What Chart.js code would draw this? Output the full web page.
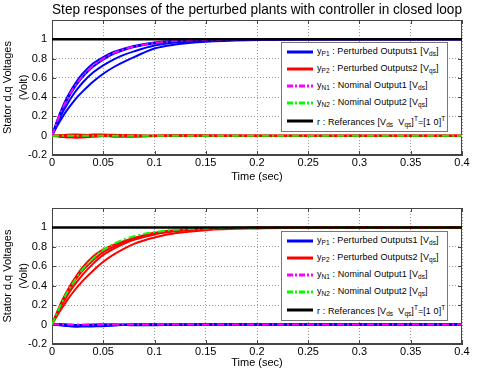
<!DOCTYPE html>
<html>
<head>
<meta charset="utf-8">
<script src="https://cdn.jsdelivr.net/npm/chart.js@4"></script>
<style>
  body { margin: 0; background: #fff; font-family: "Liberation Sans", Arial, sans-serif; }
  #wrap { position: relative; width: 480px; height: 373px; }
  canvas { position: absolute; left: 0; }
  #top-chart { top: 0; }
  #bottom-chart { top: 186px; }
  .legend { position: absolute; left: 281px; width: 165px; height: 88px; border: 1px solid #777; background: #fff; font-size: 9px; letter-spacing: 0.1px; color: #000; }
  .legend .row { display: flex; align-items: center; height: 17px; white-space: nowrap; }
  .legend .row.last { height: 20px; }
  .legend svg { margin-left: 5px; margin-right: 4px; flex: none; }
  .legend sub { font-size: 6.5px; vertical-align: -2px; letter-spacing: 0; }
  .legend sup { font-size: 6.5px; vertical-align: 4px; letter-spacing: 0; }
</style>
</head>
<body>
<div id="wrap">
  <canvas id="top-chart" width="480" height="186"></canvas>
  <canvas id="bottom-chart" width="480" height="187"></canvas>
  <div class="legend" id="legend-top" style="top:42px"></div>
  <div class="legend" id="legend-bottom" style="top:231px"></div>
</div>
<script>
// time samples (sec)
const timeSec = [0, 0.005, 0.01, 0.015, 0.02, 0.025, 0.03, 0.04, 0.05, 0.06, 0.07, 0.08, 0.1, 0.12, 0.15, 0.2, 0.25, 0.3, 0.35, 0.4];
const refTime = [0, 0.4];
const refLevel = [1, 1];

// top plot: Vds step (perturbed plants + nominal)
const vdsP1 = [0, .158, .292, .404, .498, .578, .645, .748, .815, .868, .903, .930, .966, .984, .995, 1, 1, 1, 1, 1];
const vdsP2 = [0, .145, .27, .375, .466, .544, .61, .715, .79, .848, .889, .919, .958, .978, .992, .999, 1, 1, 1, 1];
const vdsP3 = [0, .125, .235, .33, .415, .488, .552, .655, .73, .79, .838, .875, .935, .966, .986, .997, 1, 1, 1, 1];
const vdsP4 = [0, .10, .19, .27, .34, .405, .46, .56, .643, .71, .765, .815, .905, .945, .975, .992, .998, 1, 1, 1];
const vdsNominal = [0, .149, .276, .384, .476, .554, .620, .725, .800, .856, .895, .924, .962, .982, .994, 1, 1, 1, 1, 1];
// top plot: Vqs coupling
const vqsTop1 = [0, .004, .002, -.006, -.012, -.014, -.01, 0, .008, .01, .006, .002, -.002, 0, 0, 0, 0, 0, 0, 0];
const vqsTop2 = [0, -.006, -.014, -.018, -.014, -.006, .002, .012, .012, .004, -.004, -.008, -.004, .002, 0, 0, 0, 0, 0, 0];
const vqsTop3 = [0, .002, .006, .01, .012, .012, .01, .004, -.004, -.01, -.012, -.008, 0, .003, .001, 0, 0, 0, 0, 0];
const vqsTop4 = [0, -.002, -.008, -.014, -.018, -.02, -.018, -.012, -.004, .002, .004, .004, .002, 0, -.001, 0, 0, 0, 0, 0];
const vqsNominalTop = [0, 0, 0, 0, 0, 0, 0, 0, 0, 0, 0, 0, 0, 0, 0, 0, 0, 0, 0, 0];

// bottom plot: Vqs step
const vqsP1 = [0, .13, .25, .35, .44, .52, .59, .70, .775, .82, .858, .892, .945, .972, .99, .998, 1, 1, 1, 1];
const vqsP2 = [0, .12, .232, .33, .415, .49, .555, .66, .745, .80, .848, .885, .938, .966, .987, .997, 1, 1, 1, 1];
const vqsP3 = [0, .11, .21, .30, .38, .45, .515, .625, .717, .78, .832, .872, .928, .96, .984, .996, 1, 1, 1, 1];
const vqsP4 = [0, .09, .175, .255, .325, .39, .45, .555, .647, .72, .78, .83, .896, .94, .972, .99, .997, 1, 1, 1];
const vqsNominal = [0, .12, .235, .335, .42, .50, .57, .68, .77, .83, .875, .91, .952, .975, .99, .998, 1, 1, 1, 1];
// bottom plot: Vds coupling
const vdsBot1 = [0, -.004, -.01, -.016, -.02, -.022, -.02, -.014, -.006, 0, .002, .002, 0, -.002, 0, 0, 0, 0, 0, 0];
const vdsBot2 = [0, .003, .004, .002, -.004, -.01, -.014, -.016, -.012, -.006, -.002, 0, .001, 0, 0, 0, 0, 0, 0, 0];
const vdsBot3 = [0, -.002, -.006, -.008, -.008, -.006, -.004, .002, .004, .002, -.004, -.008, -.006, -.002, 0, 0, 0, 0, 0, 0];
const vdsBot4 = [0, .002, 0, -.004, -.008, -.012, -.014, -.018, -.016, -.01, -.004, 0, .002, 0, 0, 0, 0, 0, 0, 0];
const vdsNominalBot = [0, 0, 0, 0, 0, 0, 0, 0, 0, 0, 0, 0, 0, 0, 0, 0, 0, 0, 0, 0];

const legendItems = [
  { color: '#0000ff', dash: '', html: 'y<sub>P1</sub> : Perturbed Outputs1 [V<sub>ds</sub>]' },
  { color: '#ff0000', dash: '', html: 'y<sub>P2</sub> : Perturbed Outputs2 [V<sub>qs</sub>]' },
  { color: '#ff00ff', dash: '6 2 2 2', html: 'y<sub>N1</sub> : Nominal Output1 [V<sub>ds</sub>]' },
  { color: '#00ff00', dash: '6 2 2 2', html: 'y<sub>N2</sub> : Nominal Output2 [V<sub>qs</sub>]' },
  { color: '#000000', dash: '', html: 'r : Referances [V<sub>ds</sub>&nbsp; V<sub>qs</sub>]<sup>T</sup>=[1 0]<sup>T</sup>' }
];

const FONT = '"Liberation Sans", Arial, sans-serif';
const BLUE = '#0000ff', RED = '#ff0000', MAGENTA = '#ff00ff', GREEN = '#00ff00';
const DASHDOT = [7, 3, 2, 3];

function pts(xs, ys) { return xs.map((x, i) => ({ x: x, y: ys[i] })); }

function curve(ys, color, dashed, order) {
  return {
    data: pts(timeSec, ys),
    borderColor: color,
    borderWidth: 2,
    borderDash: dashed ? DASHDOT : [],
    pointRadius: 0,
    cubicInterpolationMode: 'monotone',
    order: order
  };
}

function refLine() {
  return { data: pts(refTime, refLevel), borderColor: '#000', borderWidth: 2.5, pointRadius: 0, order: 0 };
}

// box around the plot area with inward tick marks, like the original figure
const boxFrame = {
  id: 'boxFrame',
  beforeDatasetsDraw(chart) {
    const { ctx, chartArea: a, scales } = chart;
    ctx.save();
    ctx.strokeStyle = '#444';
    ctx.lineWidth = 1;
    ctx.strokeRect(a.left + 0.5, a.top + 0.5, a.right - a.left - 1, a.bottom - a.top - 1);
    ctx.beginPath();
    scales.x.ticks.forEach(t => {
      const px = Math.round(scales.x.getPixelForValue(t.value)) + 0.5;
      ctx.moveTo(px, a.bottom); ctx.lineTo(px, a.bottom - 4);
      ctx.moveTo(px, a.top); ctx.lineTo(px, a.top + 4);
    });
    scales.y.ticks.forEach(t => {
      const py = Math.round(scales.y.getPixelForValue(t.value)) + 0.5;
      ctx.moveTo(a.left, py); ctx.lineTo(a.left + 4, py);
      ctx.moveTo(a.right, py); ctx.lineTo(a.right - 4, py);
    });
    ctx.stroke();
    ctx.restore();
  }
};

const fmt = v => String(Math.round(v * 100) / 100);

function makeChart(id, datasets, opts) {
  return new Chart(document.getElementById(id), {
    type: 'line',
    data: { datasets: datasets },
    options: {
      responsive: false,
      animation: false,
      devicePixelRatio: 1,
      layout: { padding: { top: opts.padTop, right: 18, left: 0, bottom: 0 } },
      plugins: {
        legend: { display: false },
        tooltip: { enabled: false },
        title: {
          display: !!opts.title,
          text: opts.title || '',
          fullSize: false,
          color: '#000',
          font: { family: FONT, size: 15, weight: 'normal', lineHeight: 1.2 },
          padding: { top: 0.5, bottom: 1.5 }
        }
      },
      scales: {
        x: {
          type: 'linear',
          min: 0, max: 0.4,
          afterFit: s => { s.height = opts.xHeight; },
          grid: { color: '#9a9a9a', lineWidth: 1, drawTicks: false },
          border: { display: true, color: '#444', dash: [1, 2] },
          ticks: { stepSize: 0.05, color: '#000', padding: opts.xTickPad, font: { family: FONT, size: 11 }, callback: fmt },
          title: {
            display: true, text: 'Time (sec)', color: '#000',
            font: { family: FONT, size: 11, lineHeight: 1.2 },
            padding: { top: 0, bottom: opts.xTitlePad }
          }
        },
        y: {
          min: -0.2, max: 1.2,
          afterFit: s => { s.width = 52; },
          grid: { color: '#9a9a9a', lineWidth: 1, drawTicks: false },
          border: { display: true, color: '#444', dash: [1, 2] },
          ticks: {
            stepSize: 0.2, color: '#000', padding: 5, font: { family: FONT, size: 11 },
            callback: v => (v > 1.1 ? '' : fmt(v))
          },
          title: {
            display: true, text: ['Stator d,q Voltages', '(Volt)'], color: '#000',
            font: { family: FONT, size: 11, lineHeight: 1.45 },
            padding: 0
          }
        }
      }
    },
    plugins: [boxFrame]
  });
}

makeChart('top-chart', [
  refLine(),
  curve(vdsNominal, MAGENTA, true, 1),
  curve(vqsNominalTop, GREEN, true, 1),
  curve(vdsP1, BLUE, false, 2),
  curve(vdsP2, BLUE, false, 2),
  curve(vdsP3, BLUE, false, 2),
  curve(vdsP4, BLUE, false, 2),
  curve(vqsTop1, RED, false, 2),
  curve(vqsTop2, RED, false, 2),
  curve(vqsTop3, RED, false, 2),
  curve(vqsTop4, RED, false, 2)
], { title: 'Step responses of the perturbed plants with controller in closed loop', padTop: 0, xHeight: 31, xTickPad: 1, xTitlePad: 2.4 });

makeChart('bottom-chart', [
  refLine(),
  curve(vqsNominal, GREEN, true, 1),
  curve(vdsNominalBot, MAGENTA, true, 1),
  curve(vqsP1, RED, false, 2),
  curve(vqsP2, RED, false, 2),
  curve(vqsP3, RED, false, 2),
  curve(vqsP4, RED, false, 2),
  curve(vdsBot1, BLUE, false, 2),
  curve(vdsBot2, BLUE, false, 2),
  curve(vdsBot3, BLUE, false, 2),
  curve(vdsBot4, BLUE, false, 2)
], { title: '', padTop: 22, xHeight: 29, xTickPad: 1.4, xTitlePad: 3.4 });

// legends (HTML so the sub/superscripts stay real text)
function fillLegend(id) {
  const box = document.getElementById(id);
  legendItems.forEach((item, i) => {
    const row = document.createElement('div');
    row.className = 'row' + (i === legendItems.length - 1 ? ' last' : '');
    row.innerHTML = '<svg width="26" height="4"><line x1="0" y1="2" x2="26" y2="2" stroke="' + item.color +
      '" stroke-width="3"' + (item.dash ? ' stroke-dasharray="' + item.dash + '"' : '') + '/></svg><span>' + item.html + '</span>';
    box.appendChild(row);
  });
}
fillLegend('legend-top');
fillLegend('legend-bottom');
</script>
</body>
</html>
